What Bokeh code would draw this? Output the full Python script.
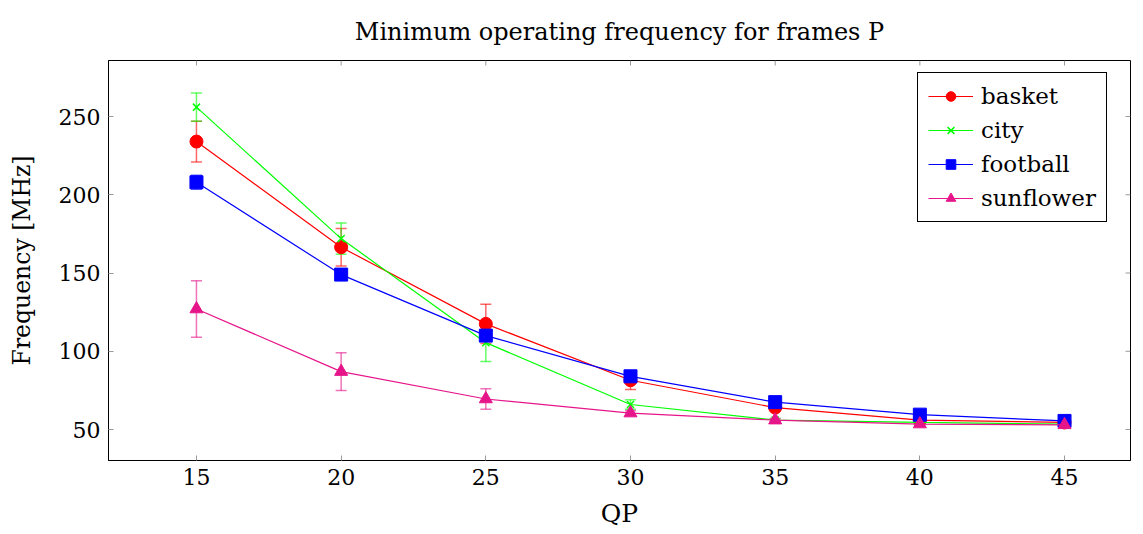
import math
from bokeh.plotting import figure
from bokeh.models import (ColumnDataSource, Whisker, TeeHead, Range1d, Legend, LegendItem,
                          FixedTicker)
from bokeh.embed import file_html
from bokeh.resources import INLINE

qp = [15, 20, 25, 30, 35, 40, 45]
basket = [234, 166.5, 117.5, 81.5, 64, 56, 54.5]
basket_err = [13, 12, 12.5, 6, 2, 1, 1]
city = [256, 172, 105.5, 66, 56, 54.5, 53.5]
city_err = [9, 10, 12, 3, 1, 1, 0.5]
football = [208, 149, 110, 84, 67.5, 59.5, 55.5]
football_err = [4.5, 3, 2, 2, 1, 1, 0.5]
sunflower = [127, 87, 69.5, 60.5, 56, 53.5, 53]
sunflower_err = [18, 12, 6.5, 1.5, 1, 0.5, 0.5]

x_ticks = [15, 20, 25, 30, 35, 40, 45]
y_ticks = [50, 100, 150, 200, 250]
x_lim = (11.96, 47.28)
y_lim = (30.2, 285.8)

FONT = "DejaVu Serif"
TICK_COLOR = "#9a9a9a"

p = figure(width=1135, height=534, output_backend="svg", toolbar_location=None,
           x_range=Range1d(*x_lim), y_range=Range1d(*y_lim),
           min_border_left=108, min_border_right=5, min_border_top=60, min_border_bottom=74,
           title="Minimum operating frequency for frames P")
p.title.text_font = FONT
p.title.text_font_size = "24px"
p.title.text_font_style = "normal"
p.title.align = "center"
p.title.text_color = "black"
p.title.standoff = 29

p.grid.visible = False
p.outline_line_color = "black"
p.outline_line_alpha = 1
p.outline_line_width = 1

for ax in (p.xaxis[0], p.yaxis[0]):
    ax.major_tick_in = 5
    ax.major_tick_out = 0
    ax.minor_tick_line_color = None
    ax.major_tick_line_color = TICK_COLOR
    ax.axis_line_color = "black"
    ax.major_label_text_font = FONT
    ax.major_label_text_font_size = "22px"
    ax.major_label_text_color = "black"
    ax.axis_label_text_font = FONT
    ax.axis_label_text_font_style = "normal"
    ax.axis_label_text_color = "black"

p.xaxis.ticker = FixedTicker(ticks=x_ticks)
p.yaxis.ticker = FixedTicker(ticks=y_ticks)
p.xaxis.axis_label = "QP"
p.yaxis.axis_label = "Frequency [MHz]"
p.xaxis.axis_label_text_font_size = "25px"
p.yaxis.axis_label_text_font_size = "23.5px"
p.xaxis.major_label_standoff = 8
p.yaxis.major_label_standoff = 8
p.xaxis.axis_label_standoff = 11
p.yaxis.axis_label_standoff = 20

# inward ticks on the top and right sides, as in the reference
p.ray(x=x_ticks, y=[p.y_range.end] * len(x_ticks), length=5, length_units="screen",
      angle=-math.pi / 2, line_color=TICK_COLOR, line_width=1)
p.ray(x=[p.x_range.end] * len(y_ticks), y=y_ticks, length=5, length_units="screen",
      angle=math.pi, line_color=TICK_COLOR, line_width=1)

series = [
    ("basket", basket, basket_err, "#ff0000", "circle", 13),
    ("city", city, city_err, "#00ff00", "x", 10),
    ("football", football, football_err, "#0000ff", "square", 13),
    ("sunflower", sunflower, sunflower_err, "#e6158a", "triangle", 13),
]

items = []
for name, vals, errs, color, marker, size in series:
    src = ColumnDataSource(dict(x=qp, y=vals,
                                upper=[v + e for v, e in zip(vals, errs)],
                                lower=[v - e for v, e in zip(vals, errs)]))
    w = Whisker(source=src, base="x", upper="upper", lower="lower", dimension="height",
                line_color=color, line_alpha=0.6, line_width=1.5,
                upper_head=TeeHead(size=11, line_color=color, line_alpha=0.6, line_width=1.5),
                lower_head=TeeHead(size=11, line_color=color, line_alpha=0.6, line_width=1.5))
    p.add_layout(w)
    ln = p.line("x", "y", source=src, line_color=color, line_width=1.2)
    if marker == "x":
        sc = p.scatter("x", "y", source=src, marker="x", size=size, line_color=color, line_width=1.5)
    else:
        sc = p.scatter("x", "y", source=src, marker=marker, size=size, fill_color=color,
                       line_color=color)
    items.append(LegendItem(label=name, renderers=[ln, sc]))

legend = Legend(items=items, location=(809, 238))
legend.label_text_font = FONT
legend.label_text_font_size = "23px"
legend.label_text_color = "black"
legend.glyph_width = 45
legend.glyph_height = 24
legend.label_standoff = 8
legend.spacing = 8
legend.padding = 10
legend.margin = 0
legend.border_line_color = "black"
legend.border_line_width = 1
legend.border_line_alpha = 1
legend.background_fill_alpha = 1
p.add_layout(legend, "center")

open("out.html", "w").write(file_html(p, INLINE))
